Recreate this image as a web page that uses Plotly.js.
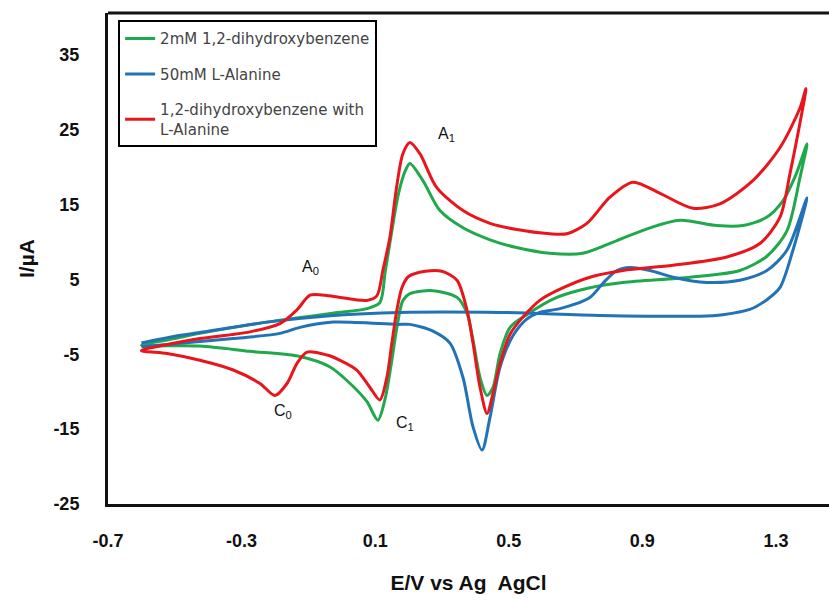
<!DOCTYPE html>
<html>
<head>
<meta charset="utf-8">
<script src="https://cdn.plot.ly/plotly-3.0.1.min.js"></script>
<style>html,body{margin:0;padding:0;background:#fff;}#chart{width:829px;height:602px;}</style>
</head>
<body>
<div id="chart"></div>
<script>
// Series names
const seriesNames = ["2mM 1,2-dihydroxybenzene", "50mM L-Alanine", "1,2-dihydroxybenzene with<br>L-Alanine"];

// 2mM 1,2-dihydroxybenzene (forward then reverse sweep)
const greenE = [-0.60,-0.50,-0.425,-0.224,-0.026,0.075,0.114,0.13,0.15,0.17,0.19,0.204,0.243,0.294,0.363,0.444,0.52,0.623,0.722,0.824,0.923,1.013,1.123,1.201,1.272,1.321,1.36,1.393,
  1.372,1.333,1.273,1.192,1.043,0.842,0.743,0.644,0.554,0.504,0.474,0.453,0.435,0.414,0.393,0.375,0.345,0.273,0.204,0.183,0.165,0.150,0.129,0.108,0.075,0.025,-0.035,-0.125,-0.275,-0.425,-0.60];
const greenI = [-3.8,-2.9,-2.2,-0.7,0.5,1.1,1.9,6.0,11.5,16.5,19.5,20.5,18.2,14.2,11.9,10.3,9.3,8.5,8.5,10.2,11.9,12.9,12.2,12.2,13.3,15.5,19.0,23.1,
  18.6,11.5,8.1,6.2,5.3,4.6,3.9,2.6,0.3,-1.4,-4.9,-9.4,-10.5,-8.1,-3.1,0.5,2.6,3.5,3.1,2.2,-1.4,-5.8,-11.1,-13.8,-11.3,-8.9,-6.7,-5.3,-4.6,-3.9,-3.8];

// 50mM L-Alanine
const blueE = [-0.60,-0.50,-0.425,-0.224,-0.026,0.174,0.474,0.773,1.072,1.141,1.222,1.273,1.312,1.351,1.393,
  1.333,1.273,1.192,1.093,0.992,0.923,0.863,0.824,0.782,0.743,0.653,0.593,0.554,0.513,0.474,0.444,0.420,0.393,0.363,0.324,0.273,0.204,0.165,-0.026,-0.125,-0.185,-0.325,-0.475,-0.60];
const blueI = [-3.5,-2.6,-2.1,-0.7,0.2,0.6,0.6,0.2,0.1,0.3,1.0,2.3,3.9,8.9,15.9,
  8.9,6.2,4.9,4.6,5.3,6.2,6.6,6.2,4.5,2.6,1.1,0.6,-0.3,-2.5,-6.7,-13.4,-17.8,-14.7,-8.1,-3.5,-1.9,-1.0,-1.0,-0.7,-1.4,-2.2,-2.9,-3.5,-4.0];

// 1,2-dihydroxybenzene with L-Alanine
const redE = [-0.60,-0.50,-0.425,-0.275,-0.185,-0.135,-0.095,-0.05,-0.005,0.075,0.105,0.123,0.144,0.164,0.183,0.204,0.234,0.284,0.363,0.444,0.52,0.623,0.674,0.734,0.803,0.872,0.953,1.052,1.132,1.231,1.312,1.372,1.39,
  1.342,1.312,1.252,1.153,0.992,0.842,0.743,0.644,0.593,0.543,0.504,0.474,0.453,0.435,0.414,0.393,0.375,0.345,0.30,0.25,0.20,0.18,0.165,0.150,0.135,0.114,0.084,0.045,-0.005,-0.044,-0.104,-0.134,-0.164,-0.20,-0.245,-0.325,-0.425,-0.523,-0.60];
const redI = [-4.5,-3.5,-2.9,-2.0,-0.9,0.9,2.9,2.9,2.6,2.2,2.8,6.2,10.6,17.3,21.8,23.3,21.8,17.3,14.2,12.5,11.7,11.1,11.1,12.5,16.0,18.0,16.5,14.5,15.1,18.2,22.6,27.9,30.5,
  19.1,13.3,9.8,8.0,6.9,6.2,5.3,3.5,2.2,0.0,-2.3,-6.2,-10.2,-12.9,-9.4,-3.5,0.9,4.9,6.1,6.1,5.4,3.9,0.9,-3.5,-8.1,-11.1,-9.4,-7.1,-5.8,-5.1,-4.7,-6.2,-8.9,-10.5,-8.9,-7.1,-5.8,-4.9,-4.5];

// Peak labels
const peakText = ["A<sub>1</sub>", "A<sub>0</sub>", "C<sub>0</sub>", "C<sub>1</sub>"];
const peakE = [0.315, -0.095, -0.176, 0.19];
const peakI = [24.4, 6.6, -12.6, -14.2];

// Axis ticks
const xTicks = [-0.7, -0.3, 0.1, 0.5, 0.9, 1.3];
const yTicks = [-25, -15, -5, 5, 15, 25, 35];

const colors = ["#20a84c", "#2172b6", "#e8161c"];
const lineW = 3;

function mk(E, I, i) {
  return {
    x: E, y: I, type: "scatter", mode: "lines", name: seriesNames[i],
    legendgroup: "g" + i,
    line: {color: colors[i], width: lineW, shape: "spline", smoothing: 0.8}
  };
}
const data = [mk(greenE, greenI, 0), mk(blueE, blueI, 1), mk(redE, redI, 2)];

const tickFont = {family: "Liberation Sans, Arial, sans-serif", size: 18, color: "#111", weight: "bold"};
const layout = {
  width: 829, height: 602,
  margin: {l: 108, r: 0, t: 13, b: 98},
  paper_bgcolor: "#fff", plot_bgcolor: "#fff",
  showlegend: true,
  legend: {
    x: 0.014, y: 0.985, xanchor: "left", yanchor: "top",
    bgcolor: "#fff", bordercolor: "#000", borderwidth: 2,
    font: {family: "DejaVu Sans, sans-serif", size: 15, color: "#444"},
    traceorder: "grouped", tracegroupgap: 13, itemwidth: 30
  },
  xaxis: {
    range: [-0.7, 1.459], tickvals: xTicks, ticktext: xTicks.map(v => v.toFixed(1)),
    showgrid: false, zeroline: false, showline: true, linecolor: "#111", linewidth: 3,
    ticks: "", ticklabelstandoff: 18, tickfont: tickFont,
    title: {text: "E/V vs Ag  AgCl", font: {family: "Liberation Sans, Arial, sans-serif", size: 21, color: "#111", weight: "bold"}, standoff: 26}
  },
  yaxis: {
    range: [-25, 40.6], tickvals: yTicks, ticktext: yTicks.map(String),
    showgrid: false, zeroline: false, showline: true, linecolor: "#111", linewidth: 3,
    ticks: "", ticklabelstandoff: 22, tickfont: tickFont,
    title: {text: "I/µA", font: {family: "Liberation Sans, Arial, sans-serif", size: 21, color: "#111", weight: "bold"}, standoff: 14}
  },
  shapes: [
    {type: "line", xref: "paper", yref: "paper", x0: 0, x1: 1, y0: 1, y1: 1, line: {color: "#111", width: 3}}
  ],
  annotations: peakText.map((t, i) => ({
    x: peakE[i], y: peakI[i], xref: "x", yref: "y", text: t, showarrow: false,
    font: {family: "Liberation Sans, Arial, sans-serif", size: 16, color: "#111"}
  }))
};

Plotly.newPlot("chart", data, layout, {displayModeBar: false, staticPlot: true});
</script>
</body>
</html>
